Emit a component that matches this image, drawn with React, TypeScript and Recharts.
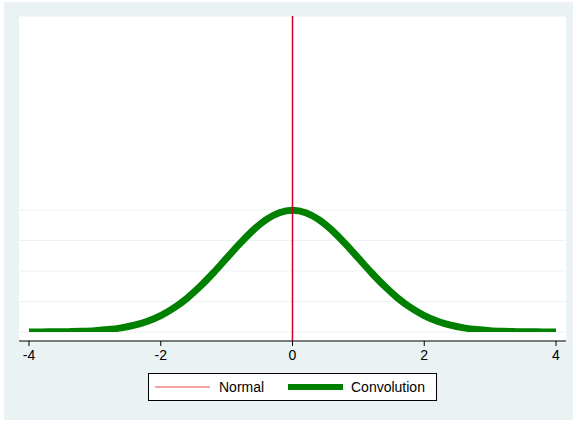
import { LineChart, Line, XAxis, YAxis, CartesianGrid, ReferenceLine } from "recharts"

// density of the convolution, read at steps of 0.2 from -4 to 4
const xValues = [
  -4, -3.8, -3.6, -3.4, -3.2, -3, -2.8, -2.6, -2.4, -2.2, -2, -1.8, -1.6, -1.4, -1.2, -1, -0.8, -0.6, -0.4, -0.2, 0,
  0.2, 0.4, 0.6, 0.8, 1, 1.2, 1.4, 1.6, 1.8, 2, 2.2, 2.4, 2.6, 2.8, 3, 3.2, 3.4, 3.6, 3.8, 4,
]
const convolution = [
  0.0001, 0.0003, 0.0006, 0.0012, 0.0024, 0.0044, 0.0079, 0.0136, 0.0224, 0.0355, 0.054, 0.079, 0.1109, 0.1497,
  0.1942, 0.242, 0.2897, 0.3332, 0.3683, 0.391, 0.3989, 0.391, 0.3683, 0.3332, 0.2897, 0.242, 0.1942, 0.1497, 0.1109,
  0.079, 0.054, 0.0355, 0.0224, 0.0136, 0.0079, 0.0044, 0.0024, 0.0012, 0.0006, 0.0003, 0.0001,
]
// the normal has (almost) no spread, so it is a spike at its mean
const normalMean = 0

const xTicks = [-4, -2, 0, 2, 4]
const yGrid = [0, 0.1, 0.2, 0.3, 0.4]

const data = xValues.map((x, i) => ({ x, conv: convolution[i] }))

const BG = "#eaf2f3"
const GREEN = "#008000"
const RED = "#d0002a"
const FONT = "'Liberation Sans', Arial, Helvetica, sans-serif"

export default function App() {
  return (
    <div style={{ position: "absolute", left: 0, top: 0, width: 575, height: 424, background: "#fff" }}>
      <div style={{ position: "absolute", left: 4, top: 2, width: 569, height: 418, background: BG }} />
      <div style={{ position: "absolute", left: 0, top: 0 }}>
        <LineChart width={575} height={424} data={data} margin={{ top: 16, right: 9, left: 19, bottom: 53 }}>
          <CartesianGrid vertical={false} fill="#fff" stroke={BG} strokeWidth={1} />
          <XAxis
            dataKey="x"
            type="number"
            domain={[-4, 4]}
            ticks={xTicks}
            padding={{ left: 10, right: 10 }}
            height={30}
            axisLine={{ stroke: "#000" }}
            tickLine={{ stroke: "#000" }}
            tickSize={5}
            tickMargin={4}
            tick={{ fill: "#000", fontSize: 14, fontFamily: FONT }}
            allowDataOverflow
          />
          <YAxis hide type="number" domain={[0, 1.036]} ticks={yGrid} padding={{ top: 0, bottom: 9 }} allowDataOverflow />
          <Line
            dataKey="conv"
            type="monotone"
            stroke={GREEN}
            strokeWidth={7}
            strokeLinecap="butt"
            dot={false}
            activeDot={false}
            isAnimationActive={false}
          />
          <ReferenceLine x={normalMean} stroke={RED} strokeWidth={1.5} />
        </LineChart>
      </div>
      {/* legend box under the axis */}
      <div
        style={{
          position: "absolute",
          left: 148,
          top: 373,
          width: 287,
          height: 26,
          background: "#fff",
          border: "1px solid #000",
          fontFamily: FONT,
          fontSize: 14,
          color: "#000",
        }}
      >
        <div style={{ position: "absolute", left: 6, top: 12, width: 55, height: 2, background: "#f4a3a3" }} />
        <span style={{ position: "absolute", left: 70, top: 5, lineHeight: "16px" }}>Normal</span>
        <div style={{ position: "absolute", left: 139, top: 10, width: 55, height: 6, background: GREEN }} />
        <span style={{ position: "absolute", left: 202, top: 5, lineHeight: "16px" }}>Convolution</span>
      </div>
    </div>
  )
}
